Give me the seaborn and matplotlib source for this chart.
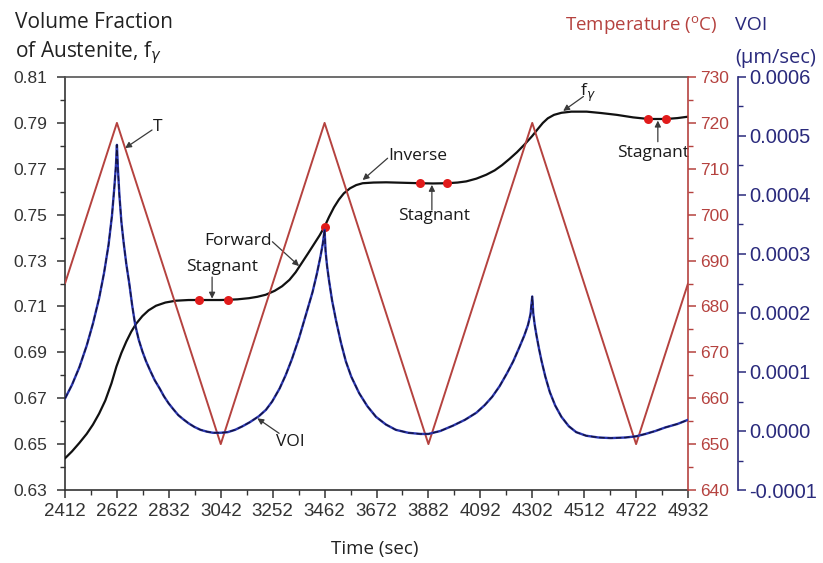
import matplotlib
matplotlib.use("Agg")
import matplotlib.pyplot as plt
from matplotlib.ticker import FormatStrFormatter
import pandas as pd
import seaborn as sns

# ---- data -------------------------------------------------------------
temp_time = [2412, 2622, 3042, 3462, 3882, 4302, 4722, 4932]
temp_vals = [685, 720, 650, 720, 650, 720, 650, 685]

frac_time = [2412, 2440, 2470, 2500, 2525, 2550, 2575, 2600, 2620, 2640, 2660,
             2680, 2700, 2725, 2750, 2780, 2818, 2860, 2912, 2953, 3000, 3042,
             3071, 3110, 3156, 3190, 3224, 3260, 3290, 3320, 3345, 3370, 3395,
             3420, 3442, 3462, 3480, 3500, 3520, 3540, 3565, 3590, 3616, 3660,
             3711, 3780, 3849, 3900, 3958, 4000, 4035, 4076, 4116, 4150, 4180,
             4210, 4240, 4270, 4302, 4325, 4345, 4365, 4390, 4420, 4460, 4522,
             4580, 4644, 4710, 4772, 4844, 4890, 4932]
frac_vals = [0.6438, 0.6468, 0.6505, 0.6545, 0.6585, 0.6633, 0.6690, 0.6765,
             0.6838, 0.6897, 0.6947, 0.6990, 0.7025, 0.7058, 0.7083, 0.7103,
             0.7117, 0.7125, 0.7128, 0.7128, 0.7128, 0.7128, 0.7129, 0.7131,
             0.7136, 0.7142, 0.7151, 0.7168, 0.7188, 0.7216, 0.7249, 0.7290,
             0.7331, 0.7373, 0.7410, 0.7448, 0.7490, 0.7532, 0.7566, 0.7593,
             0.7615, 0.7629, 0.7637, 0.7640, 0.7641, 0.7639, 0.7637, 0.7636,
             0.7637, 0.7640, 0.7645, 0.7657, 0.7674, 0.7693, 0.7716, 0.7743,
             0.7772, 0.7805, 0.7843, 0.7874, 0.7900, 0.7920, 0.7935, 0.7944,
             0.7949, 0.7949, 0.7943, 0.7935, 0.7924, 0.7917, 0.7917, 0.7921,
             0.7927]

voi_time = [2412, 2440, 2470, 2500, 2525, 2550, 2570, 2588, 2602, 2612, 2618,
            2622, 2626, 2632, 2640, 2649, 2660, 2672, 2684, 2696, 2710, 2725,
            2740, 2757, 2775, 2795, 2812, 2831, 2850, 2870, 2890, 2912, 2935,
            2960, 2985, 3010, 3042, 3070, 3100, 3130, 3160, 3196, 3225, 3250,
            3280, 3305, 3330, 3359, 3385, 3413, 3430, 3445, 3455, 3462, 3466,
            3472, 3480, 3492, 3508, 3528, 3548, 3570, 3602, 3635, 3670, 3710,
            3750, 3800, 3850, 3882, 3930, 3981, 4030, 4076, 4110, 4140, 4170,
            4200, 4225, 4250, 4270, 4285, 4295, 4302, 4306, 4312, 4320, 4330,
            4340, 4355, 4373, 4395, 4420, 4450, 4480, 4520, 4570, 4620, 4680,
            4722, 4760, 4800, 4840, 4890, 4932]
voi_vals = [0.000055, 0.000078, 0.000108, 0.000145, 0.000182, 0.000225,
            0.000268, 0.000315, 0.000365, 0.000415, 0.000450, 0.000485,
            0.000445, 0.000400, 0.000355, 0.000320, 0.000283, 0.000250,
            0.000212, 0.000180, 0.000155, 0.000135, 0.000118, 0.000102,
            0.000086, 0.000072, 0.000059, 0.000047, 0.000037, 0.000027,
            0.000020, 0.000013, 0.000007, 0.000002, -0.000001, -0.000003,
            -0.000003, -0.000002, 0.000002, 0.000008, 0.000015, 0.000025,
            0.000036, 0.000050, 0.000072, 0.000095, 0.000122, 0.000158,
            0.000195, 0.000235, 0.000265, 0.000295, 0.000318, 0.000341,
            0.000305, 0.000280, 0.000255, 0.000222, 0.000188, 0.000150,
            0.000118, 0.000092, 0.000064, 0.000042, 0.000024, 0.000011,
            0.000002, -0.000003, -0.000005, -0.000005, 0.000000, 0.000009,
            0.000019, 0.000031, 0.000044, 0.000058, 0.000076, 0.000098,
            0.000118, 0.000142, 0.000162, 0.000180, 0.000198, 0.000228,
            0.000200, 0.000180, 0.000160, 0.000138, 0.000118, 0.000092,
            0.000066, 0.000043, 0.000024, 0.000008, -0.000002, -0.000008,
            -0.000011, -0.000012, -0.000011, -0.000009, -0.000005, 0.000000,
            0.000006, 0.000012, 0.000019]

dot_time = [2953, 3071, 3462, 3849, 3958, 4772, 4844]
dot_vals = [0.7128, 0.7129, 0.7448, 0.7637, 0.7637, 0.7917, 0.7917]

x_ticks = [2412, 2622, 2832, 3042, 3252, 3462, 3672, 3882, 4092, 4302, 4512,
           4722, 4932]
x_minor = [2517, 2727, 2937, 3147, 3357, 3567, 3777, 3987, 4197, 4407, 4617,
           4827]
f_ticks = [0.63, 0.65, 0.67, 0.69, 0.71, 0.73, 0.75, 0.77, 0.79, 0.81]
f_minor = [0.64, 0.66, 0.68, 0.70, 0.72, 0.74, 0.76, 0.78, 0.80]
t_ticks = [640, 650, 660, 670, 680, 690, 700, 710, 720, 730]
t_minor = [645, 655, 665, 675, 685, 695, 705, 715, 725]
v_ticks = [-0.0001, 0.0, 0.0001, 0.0002, 0.0003, 0.0004, 0.0005, 0.0006]
v_minor = [-0.00005, 0.00005, 0.00015, 0.00025, 0.00035, 0.00045, 0.00055]

# ---- styling ----------------------------------------------------------
sns.set_style("ticks")
plt.rcParams["font.family"] = ["Liberation Sans", "DejaVu Sans"]
LABEL_FONT = ["Open Sans", "DejaVu Sans"]

RED = "#b5423f"
NAVY = "#2a2a7c"
BLUE_LINE = "#2a36b0"
GREY = "#333333"

W, H = 823, 563
fig = plt.figure(figsize=(W / 100, H / 100), dpi=100)
L, R, T, B = 65, 688, 77, 490
ax = fig.add_axes([L / W, 1 - B / H, (R - L) / W, (B - T) / H])
ax2 = ax.twinx()
ax3 = ax.twinx()
ax3.spines["right"].set_position(("axes", (738 - L) / (R - L)))

df_f = pd.DataFrame({"time": frac_time, "f": frac_vals})
df_t = pd.DataFrame({"time": temp_time, "T": temp_vals})
df_v = pd.DataFrame({"time": voi_time, "voi": voi_vals})

# temperature, volume fraction and interface velocity curves
sns.lineplot(data=df_t, x="time", y="T", ax=ax2, color=RED, lw=1.4,
             estimator=None, zorder=2)
sns.lineplot(data=df_v, x="time", y="voi", ax=ax3, color=BLUE_LINE, lw=1.7,
             estimator=None, zorder=2)
sns.lineplot(data=df_v, x="time", y="voi", ax=ax3, color="#141440", lw=1.0,
             estimator=None, zorder=3, linestyle=(0, (4, 2)))
sns.lineplot(data=df_f, x="time", y="f", ax=ax, color="#111111", lw=1.6,
             estimator=None, zorder=3)
ax.scatter(dot_time, dot_vals, s=42, color="#e11b1b", zorder=5, linewidths=0)

# ---- axes -------------------------------------------------------------
for a in (ax, ax2, ax3):
    a.set_xlabel("")
    a.set_ylabel("")
    a.patch.set_visible(False)

ax.set_xticks(x_ticks)
ax.set_xticks(x_minor, minor=True)
ax.set_yticks(f_ticks)
ax.set_yticks(f_minor, minor=True)
ax.yaxis.set_major_formatter(FormatStrFormatter("%.2f"))
ax2.set_yticks(t_ticks)
ax2.set_yticks(t_minor, minor=True)
ax3.set_yticks(v_ticks)
ax3.set_yticks(v_minor, minor=True)
ax3.yaxis.set_major_formatter(FormatStrFormatter("%.4f"))
ax.set_xlim(2412, 4932)
ax.set_ylim(0.63, 0.81)
ax2.set_ylim(640, 730)
ax3.set_ylim(-0.0001, 0.0006)

ax.tick_params(axis="y", which="major", direction="out", length=6,
               width=1.1, color=GREY, labelcolor=GREY, labelsize=12.5, pad=7)
ax.tick_params(axis="x", which="major", direction="out", length=6,
               width=1.1, color=GREY, labelcolor=GREY, labelsize=13.5, pad=3)
ax.tick_params(axis="both", which="minor", direction="out", length=3.5,
               width=1.0, color=GREY)
ax2.tick_params(axis="y", which="major", direction="out", length=6, width=1.1,
                color=RED, labelcolor=RED, labelsize=12.5, pad=3)
ax2.tick_params(axis="y", which="minor", direction="out", length=3.5,
                width=1.0, color=RED)
ax3.tick_params(axis="y", which="major", direction="out", length=6, width=1.1,
                color=NAVY, labelcolor=NAVY, labelsize=14.5, pad=2)
ax3.tick_params(axis="y", which="minor", direction="out", length=3.5,
                width=1.0, color=NAVY)

for s in ("left", "bottom"):
    ax.spines[s].set_color(GREY)
    ax.spines[s].set_linewidth(1.2)
ax.spines["top"].set_color("#555555")
ax.spines["top"].set_linewidth(1.2)
ax.spines["right"].set_visible(False)
for s in ("left", "top", "bottom"):
    ax2.spines[s].set_visible(False)
    ax3.spines[s].set_visible(False)
ax2.spines["right"].set_color(RED)
ax2.spines["right"].set_linewidth(1.2)
ax3.spines["right"].set_color(NAVY)
ax3.spines["right"].set_linewidth(1.2)

# ---- axis titles --------------------------------------------------------
def ftext(x, y, s, **kw):
    fig.text(x / W, 1 - y / H, s, family=LABEL_FONT, va="center", **kw)

ftext(15, 22, "Volume Fraction", fontsize=15, color="#222222")
ftext(15, 53, r"of Austenite, f$_\gamma$", fontsize=15, color="#222222")
ftext(565, 25, r"Temperature ($\mathregular{^o}$C)", fontsize=13.5, color=RED)
ftext(735, 25, "VOI", fontsize=14, color=NAVY)
ftext(735, 58, "(\u00b5m/sec)", fontsize=14.5, color=NAVY)
ftext(375, 549, "Time (sec)", fontsize=13.5, color="#222222", ha="center")

# ---- annotations --------------------------------------------------------
arrow = dict(arrowstyle="-|>", color="#3a3a3a", lw=0.9, mutation_scale=9,
             shrinkA=0, shrinkB=0)
ann_kw = dict(family=LABEL_FONT, fontsize=12.5, color="#1a1a1a",
              ha="center", va="center")


def label(x, y, s, tail, head, head_axis=None):
    ax.text(x, y, s, zorder=6, **ann_kw)
    tr = (head_axis or ax).transData
    ax.annotate("", xy=head, xycoords=tr, xytext=tail,
                textcoords=ax.transData, arrowprops=arrow, zorder=6)


label(2785, 0.7882, "T", (2764, 0.7869), (2655, 714.5), ax2)
label(3114, 0.7385, "Forward", (3251, 0.7382), (3359, 0.7276))
label(3048, 0.7273, "Stagnant", (3007, 0.7228), (3007, 0.7134))
label(3840, 0.7756, "Inverse", (3717, 0.7746), (3616, 0.7651))
label(3903, 0.7496, "Stagnant", (3896, 0.7520), (3896, 0.7630))
label(4525, 0.8030, r"f$_\gamma$", (4509, 0.8015), (4427, 0.7952))
label(4790, 0.7769, "Stagnant", (4810, 0.7818), (4810, 0.7910))
label(3325, 0.6511, "VOI", (3278, 0.6547), (3190, 0.0000215), ax3)

fig.savefig("out.png", dpi=100)
